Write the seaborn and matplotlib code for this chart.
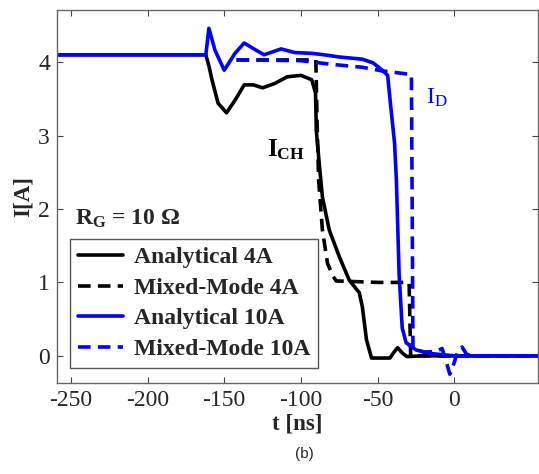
import numpy as np
import pandas as pd
import matplotlib
matplotlib.use("Agg")
import matplotlib.pyplot as plt
import seaborn as sns

# ---- data ----
t_an4 = [-259, -162, -160, -158, -154, -148.5, -143, -137, -131, -125, -117, -109, -100, -93, -90.5,
         -90, -88, -86, -81.5, -75, -68.5, -62, -60, -57.3, -54, -42, -39, -37, -34, -31, -20, 0, 55]
i_an4 = [4.1, 4.1, 3.95, 3.76, 3.44, 3.31, 3.48, 3.69, 3.69, 3.65, 3.71, 3.8, 3.82, 3.76, 3.58,
         3.07, 2.6, 2.16, 1.71, 1.35, 1.03, 0.86, 0.67, 0.22, -0.03, -0.03, 0.06, 0.11, 0.04, -0.01, 0.0, 0.0, 0.0]

t_mm4 = [-142, -120, -100, -90.3, -89.5, -88.5, -86, -82.7, -79, -77, -50, -29.5, -29, -28.5, -20, 55]
i_mm4 = [4.03, 4.03, 4.03, 4.03, 3.2, 2.4, 1.71, 1.26, 1.08, 1.02, 1.0, 1.0, 0.5, 0.0, 0.0, 0.0]

t_an10 = [-259, -162, -160, -156, -150, -143, -137, -129, -124, -113, -104, -93, -85, -75,
          -60, -53, -47, -43.5, -41.5, -39, -37.8, -36, -34, -31.5, -25, -15, 0, 20, 55]
i_an10 = [4.1, 4.1, 4.46, 4.16, 3.89, 4.12, 4.26, 4.16, 4.1, 4.18, 4.13, 4.12, 4.1, 4.07,
          4.04, 3.99, 3.89, 3.82, 3.4, 2.9, 2.39, 1.1, 0.38, 0.18, 0.08, 0.03, 0.0, 0.0, 0.0]

t_mm10 = [-142, -100, -80, -60, -47, -35, -28, -27.5, -27, -24, -20, -12, -8, -5,
          -3, -1, 2, 5, 8, 12, 20, 55]
i_mm10 = [4.03, 4.02, 3.97, 3.93, 3.88, 3.85, 3.83, 2.0, 0.1, 0.08, 0.05, 0.06, 0.1, -0.1,
          -0.25, -0.15, 0.05, 0.12, 0.02, 0.0, 0.0, 0.0]

series_names = ["Analytical 4A", "Mixed-Mode 4A", "Analytical 10A", "Mixed-Mode 10A"]
x_ticks = [-250, -200, -150, -100, -50, 0]
y_ticks = [0, 1, 2, 3, 4]

frames = []
for name, t, i in zip(series_names, [t_an4, t_mm4, t_an10, t_mm10], [i_an4, i_mm4, i_an10, i_mm10]):
    frames.append(pd.DataFrame({"t": t, "I": i, "series": name}))
df = pd.concat(frames, ignore_index=True)

# ---- style ----
sns.set_style("ticks")
plt.rcParams["font.family"] = ["Liberation Serif", "DejaVu Serif"]
plt.rcParams["mathtext.fontset"] = "custom"
plt.rcParams["mathtext.rm"] = "Liberation Serif"
plt.rcParams["mathtext.bf"] = "Liberation Serif:bold"
plt.rcParams["mathtext.it"] = "Liberation Serif:italic"
plt.rcParams["axes.unicode_minus"] = False

fig = plt.figure(figsize=(5.39, 4.74), dpi=100)
ax = fig.add_axes([57 / 539, 91 / 474, 481 / 539, 373 / 474])

palette = {"Analytical 4A": "black", "Mixed-Mode 4A": "black",
           "Analytical 10A": "#0000ff", "Mixed-Mode 10A": "#0000ff"}
dashes = {"Analytical 4A": "", "Mixed-Mode 4A": (3.5, 2),
          "Analytical 10A": "", "Mixed-Mode 10A": (3.5, 2)}

sns.lineplot(data=df, x="t", y="I", hue="series", style="series",
             hue_order=series_names, style_order=series_names,
             palette=palette, dashes=dashes, estimator=None, sort=False,
             linewidth=2.6, ax=ax)

ax.set_xlim(-259, 54.5)
ax.set_ylim(-0.37, 4.71)
ax.set_xticks(x_ticks)
ax.set_yticks(y_ticks)
ax.tick_params(direction="in", top=True, right=True, length=4, width=0.8,
               labelsize=17, color="#444444", pad=5)
for sp in ax.spines.values():
    sp.set_color("#666666")
    sp.set_linewidth(1.0)

ax.set_xlabel("t [ns]", fontsize=16.5, fontweight="bold", labelpad=2)
ax.set_ylabel("I[A]", fontsize=16.5, fontweight="bold", labelpad=3)

leg = ax.legend(loc="lower left", bbox_to_anchor=(0.027, 0.04), borderaxespad=0,
                prop={"family": "Liberation Serif", "weight": "bold", "size": 17},
                frameon=True, fancybox=False, framealpha=1, edgecolor="#555555",
                labelspacing=0.38, borderpad=0.35, handlelength=1.9, handletextpad=0.45)
leg.get_frame().set_linewidth(1.0)

ax.text(-247.4, 1.79, r"$\mathbf{R_G}$" + " = 10 Ω", fontsize=17, fontweight="bold",
        ha="left", va="baseline")
ax.text(-122, 2.72, r"$\mathbf{I_{CH}}$", fontsize=18, color="black", ha="left", va="baseline")
ax.text(-18.4, 3.44, r"$\mathrm{I_D}$", fontsize=17.5, color="#0000ff", ha="left", va="baseline")

fig.text(304 / 539, 1 - 454 / 474, "(b)", fontsize=11, family="Liberation Sans",
         ha="center", va="center")

fig.savefig("out.png", dpi=100)
